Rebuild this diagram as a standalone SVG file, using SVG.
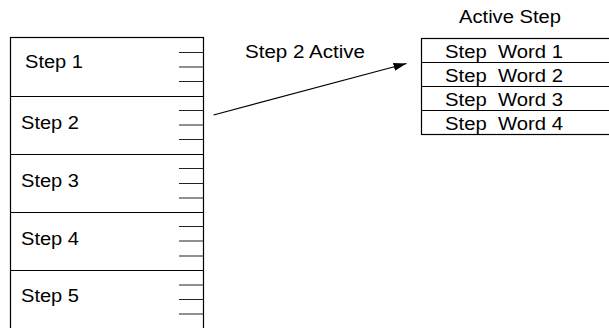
<svg xmlns="http://www.w3.org/2000/svg" width="609" height="328" viewBox="0 0 609 328">
<defs>
<style>
.ln{stroke:#000;stroke-width:1.2;fill:none}
.tk{stroke:#222;stroke-width:1.1}
.t{font-family:"Liberation Sans",Arial,sans-serif;font-size:18px;fill:#000}
</style>
<marker id="ah" markerUnits="userSpaceOnUse" markerWidth="14" markerHeight="10" refX="13" refY="4" orient="auto">
<path d="M0,0 L13,4 L0,8 Z" fill="#000"/>
</marker>
</defs>
<rect width="609" height="328" fill="#fff"/>
<g id="step-table">
<rect class="ln" x="10.5" y="37.5" width="193" height="300"/>
<g id="step1">
<text class="t" x="25" y="68" textLength="58" lengthAdjust="spacingAndGlyphs">Step 1</text>
<path class="tk" d="M179,52.5H203.5M179,67H203.5M179,81.5H203.5"/>
</g>
<g id="step2">
<path class="ln" d="M10.5,96.5H203.5"/>
<text class="t" x="21" y="129" textLength="58" lengthAdjust="spacingAndGlyphs">Step 2</text>
<path class="tk" d="M179,110.5H203.5M179,125H203.5M179,139.5H203.5"/>
</g>
<g id="step3">
<path class="ln" d="M10.5,154.5H203.5"/>
<text class="t" x="21" y="187" textLength="58" lengthAdjust="spacingAndGlyphs">Step 3</text>
<path class="tk" d="M179,168.5H203.5M179,183.5H203.5M179,198H203.5"/>
</g>
<g id="step4">
<path class="ln" d="M10.5,212.5H203.5"/>
<text class="t" x="21" y="245" textLength="58" lengthAdjust="spacingAndGlyphs">Step 4</text>
<path class="tk" d="M179,226.5H203.5M179,241H203.5M179,256H203.5"/>
</g>
<g id="step5">
<path class="ln" d="M10.5,270.5H203.5"/>
<text class="t" x="21" y="302" textLength="58" lengthAdjust="spacingAndGlyphs">Step 5</text>
<path class="tk" d="M179,285H203.5M179,299.5H203.5M179,314H203.5"/>
</g>
</g>
<g id="active-step">
<text class="t" x="459" y="23" textLength="102" lengthAdjust="spacingAndGlyphs">Active Step</text>
<rect class="ln" x="421.5" y="38.5" width="200" height="96"/>
<g id="word1"><text class="t" x="445" y="57.5" textLength="118" lengthAdjust="spacingAndGlyphs" xml:space="preserve">Step  Word 1</text></g>
<g id="word2"><path class="ln" d="M421.5,62.5H610"/><text class="t" x="445" y="81.5" textLength="118" lengthAdjust="spacingAndGlyphs" xml:space="preserve">Step  Word 2</text></g>
<g id="word3"><path class="ln" d="M421.5,86.5H610"/><text class="t" x="445" y="105.5" textLength="118" lengthAdjust="spacingAndGlyphs" xml:space="preserve">Step  Word 3</text></g>
<g id="word4"><path class="ln" d="M421.5,110.5H610"/><text class="t" x="445" y="129.5" textLength="118" lengthAdjust="spacingAndGlyphs" xml:space="preserve">Step  Word 4</text></g>
</g>
<g id="connectors">
<line class="ln" x1="213.5" y1="115" x2="406.5" y2="63.5" marker-end="url(#ah)"/>
<text class="t" x="245" y="58" textLength="120" lengthAdjust="spacingAndGlyphs">Step 2 Active</text>
</g>
</svg>
